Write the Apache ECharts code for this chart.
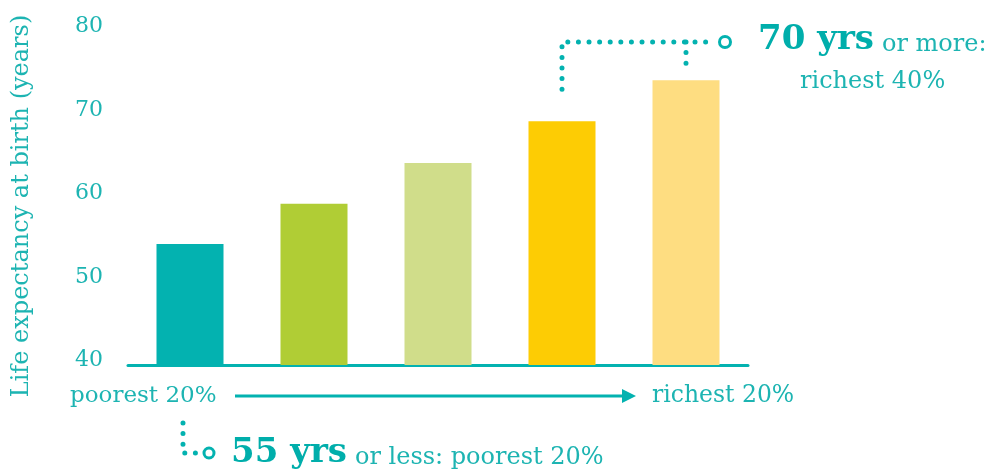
<!DOCTYPE html>
<html><head><meta charset="utf-8">
<script src="https://cdn.jsdelivr.net/npm/echarts@6/dist/echarts.min.js"></script>
<style>html,body{margin:0;padding:0;background:#fff}#c{width:990px;height:475px}</style>
</head><body><div id="c"></div>
<script>
const categories = ['Q1', 'Q2', 'Q3', 'Q4', 'Q5'];
const lifeExpectancy = [54.5, 59.3, 64.2, 69.2, 74.1];
const barColors = ['#03b2b0', '#b0cd35', '#d0dd8a', '#fdcc04', '#fedd81'];
const yTicks = [40, 50, 60, 70, 80];
const yAxisTitle = 'Life expectancy at birth (years)';
const leftLabel = 'poorest 20%';
const rightLabel = 'richest 20%';
const topBold = '70 yrs', topRest = 'or more:', topLine2 = 'richest 40%';
const botBold = '55 yrs', botRest = 'or less: poorest 20%';

const TEAL = '#03b2b0', TXT = '#1db4b2', FONT = 'DejaVu Serif';
const chart = echarts.init(document.getElementById('c'));
chart.setOption({
  animation: false,
  grid: {left: 128, right: 242, top: 31, bottom: 110, containLabel: false, outerBoundsMode: 'none'},
  xAxis: {type: 'category', data: categories,
    axisLine: {lineStyle: {color: TEAL, width: 3}}, axisTick: {show: false}, axisLabel: {show: false}},
  yAxis: {type: 'value', min: yTicks[0], max: yTicks[yTicks.length-1], interval: 10,
    name: yAxisTitle, nameLocation: 'middle', nameGap: 94,
    nameTextStyle: {color: TXT, fontFamily: FONT, fontSize: 24, padding: [0, 16, 0, 0]},
    axisLine: {show: false}, axisTick: {show: false}, splitLine: {show: false},
    axisLabel: {color: TXT, fontFamily: FONT, fontSize: 22, margin: 25, verticalAlign: 'bottom', lineHeight: 9}},
  series: [{type: 'bar', barWidth: 67,
    data: lifeExpectancy.map((v, i) => ({value: v, itemStyle: {color: barColors[i]}}))}]
});

const px = (i) => chart.convertToPixel({xAxisIndex: 0, yAxisIndex: 0}, [i, lifeExpectancy[i]]);
const p4 = px(3), p5 = px(4);
const dot = {stroke: TEAL, lineWidth: 5, lineDash: [0, 10.6], lineCap: 'round', fill: null};
const topY = 42;
const rich = {
  b: {fontFamily: FONT, fontWeight: 'bold', fontSize: 34, fill: '#00aeab', verticalAlign: 'bottom', lineHeight: 40, padding: [0, 8, 0, 0]},
  n: {fontFamily: FONT, fontSize: 24, fill: TXT, verticalAlign: 'bottom', lineHeight: 34}
};
const graphics = [
  {type: 'polyline', shape: {points: [[p4[0], p4[1] - 32], [p4[0], topY], [713, topY]]}, style: dot},
  {type: 'polyline', shape: {points: [[p5[0], topY], [p5[0], p5[1] - 9]]}, style: dot},
  {type: 'circle', shape: {cx: 725, cy: topY, r: 5.5}, style: {stroke: TEAL, lineWidth: 3, fill: '#fff'}},
  {type: 'text', x: 758, y: 37, style: {text: '{b|' + topBold + '}{n|' + topRest + '}', verticalAlign: 'middle', rich: rich}},
  {type: 'text', x: 800, y: 82, style: {text: topLine2, fontFamily: FONT, fontSize: 24, fill: TXT, verticalAlign: 'middle'}},
  {type: 'text', x: 70, y: 396, style: {text: leftLabel, fontFamily: FONT, fontSize: 23, fill: TXT, verticalAlign: 'middle'}},
  {type: 'text', x: 652, y: 396, style: {text: rightLabel, fontFamily: FONT, fontSize: 23.5, fill: TXT, verticalAlign: 'middle'}},
  {type: 'line', shape: {x1: 235, y1: 396, x2: 624, y2: 396}, style: {stroke: TEAL, lineWidth: 3}},
  {type: 'polygon', shape: {points: [[622, 389], [636, 396], [622, 403]]}, style: {fill: TEAL}},
  {type: 'polyline', shape: {points: [[183, 423], [183, 453], [196, 453]]}, style: dot},
  {type: 'circle', shape: {cx: 209, cy: 453, r: 5}, style: {stroke: TEAL, lineWidth: 3, fill: '#fff'}},
  {type: 'text', x: 231, y: 450, style: {text: '{b|' + botBold + '}{n|' + botRest + '}', verticalAlign: 'middle', rich: rich}}
];
chart.setOption({graphic: graphics});
</script></body></html>
